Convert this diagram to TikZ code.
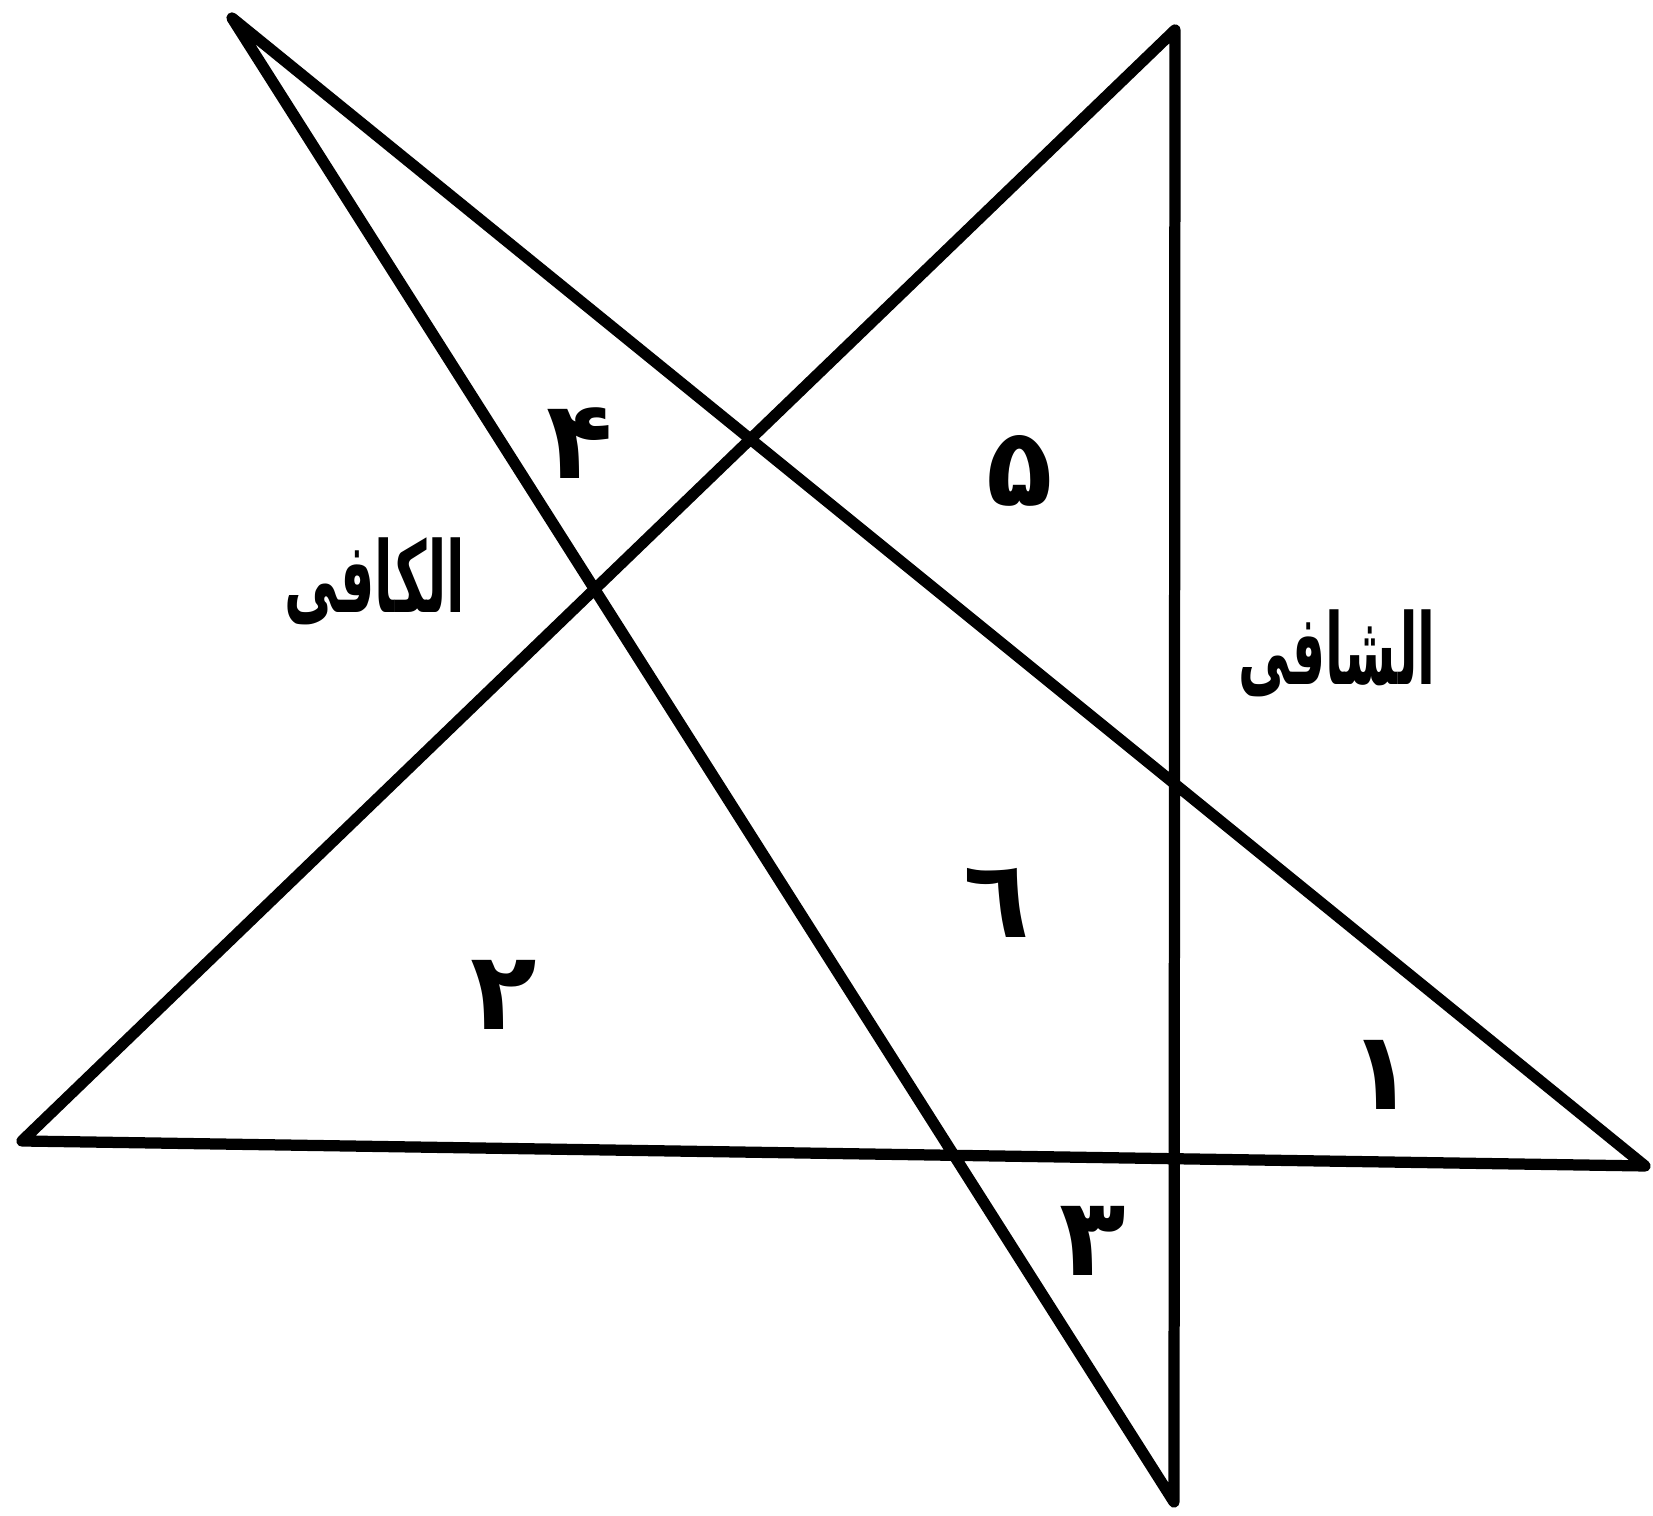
\documentclass[tikz,border=0pt]{standalone}
\usepackage{fontspec}
\newfontfamily\arabicfont[Script=Arabic]{DejaVu Sans}
\TeXXeTstate=1
\usetikzlibrary{positioning}

\begin{document}
\begin{tikzpicture}[line width=3.2pt,line join=round,
    every node/.style={inner sep=0pt,font=\arabicfont\bfseries\fontsize{31}{33}\selectfont},
    word/.style={font=\arabicfont\bfseries\fontsize{28}{30}\selectfont}]
  \useasboundingbox (0,0) rectangle (16.53,15.16);
  \coordinate (tl) at (2.32,14.98);
  \coordinate (tr) at (11.75,14.86);
  \coordinate (lf) at (0.22,3.75);
  \coordinate (rt) at (16.45,3.50);
  \coordinate (bt) at (11.74,0.14);
  \draw (tl) -- (rt) -- (lf) -- (tr) -- (bt) -- cycle;
  \node[word] (kafi) at (3.75,9.35) {\scalebox{0.55}[1]{\beginR الکافی\endR}};
  \node[word] (shafi) at (13.37,8.63) {\scalebox{0.53}[1]{\beginR الشافی\endR}};
  \node (n1) at (13.82,4.41) {۱};
  \node (n2) at (5.04,5.21) {۲};
  \node (n3) at (10.93,2.75) {۳};
  \node (n4) at (5.80,10.73) {۴};
  \node (n5) at (10.20,10.45) {۵};
  \node (n6) at (9.97,6.13) {٦};
\end{tikzpicture}
\end{document}
